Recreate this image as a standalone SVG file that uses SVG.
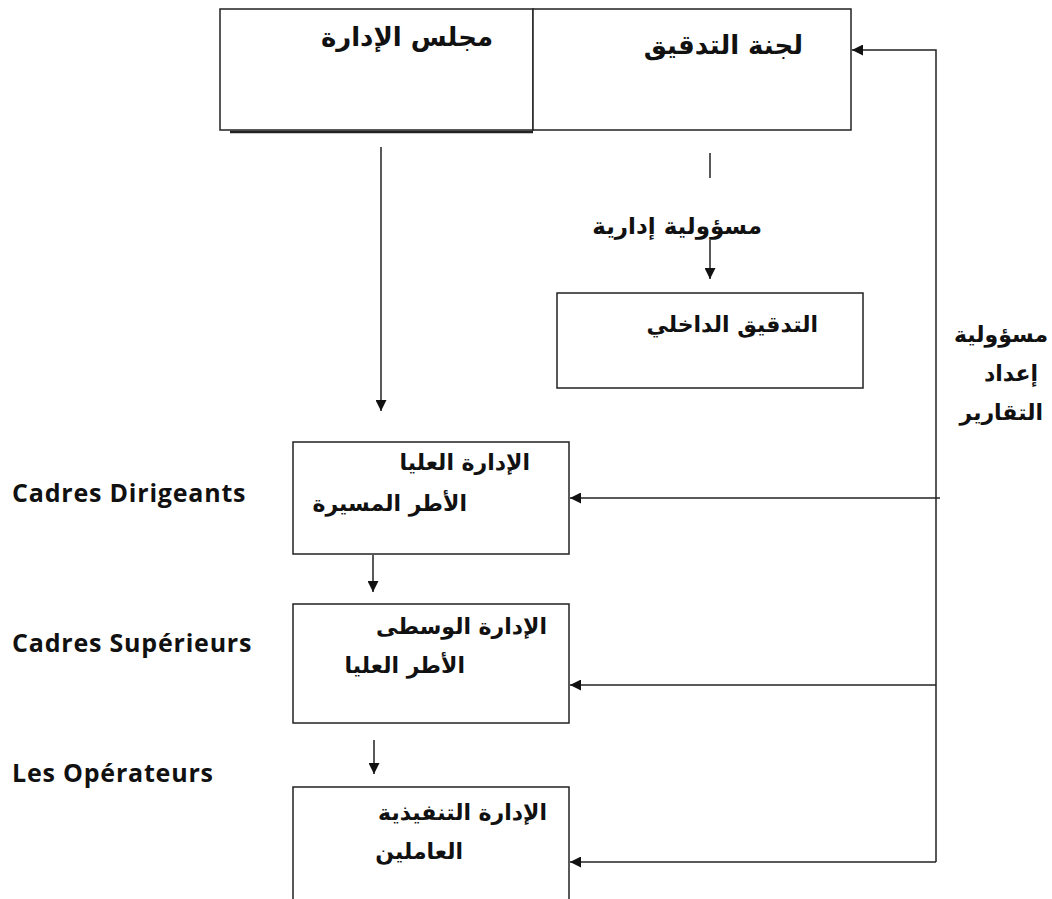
<svg xmlns="http://www.w3.org/2000/svg" width="1052" height="899" viewBox="0 0 1052 899">
<style>
.box{fill:#fff;stroke:#222;stroke-width:1.5}
.ln{stroke:#222;stroke-width:1.5;fill:none}
.ar{font-family:"DejaVu Sans",sans-serif;font-weight:bold;font-size:22px;fill:#111}
.tt{font-size:26px}
.lb{font-size:23px}
.fr{font-family:"Open Sans","Noto Sans",sans-serif;font-weight:bold;font-size:25px;letter-spacing:0.8px;fill:#111}
</style>
<defs>
<marker id="ah" viewBox="0 0 10 10" refX="10" refY="5" markerWidth="11" markerHeight="11" markerUnits="userSpaceOnUse" orient="auto">
<path d="M0,0 L10,5 L0,10 z" fill="#111"/>
</marker>
</defs>
<rect width="1052" height="899" fill="#fff"/>
<g id="board">
<rect class="box" x="220" y="9" width="313" height="121"/>
<line x1="230" y1="132" x2="533" y2="132" stroke="#222" stroke-width="2.5"/>
<text class="ar tt" x="493" y="46" text-anchor="end">مجلس الإدارة</text>
</g>
<g id="audit-committee">
<rect class="box" x="533" y="9" width="318" height="121"/>
<text class="ar tt" x="803" y="54" text-anchor="end">لجنة التدقيق</text>
</g>
<g id="internal-audit">
<rect class="box" x="557" y="293" width="306" height="95"/>
<text class="ar" x="818" y="332" text-anchor="end">التدقيق الداخلي</text>
</g>
<g id="top-mgmt">
<rect class="box" x="293" y="442" width="276" height="112"/>
<text class="ar" x="530" y="470" text-anchor="end">الإدارة العليا</text>
<text class="ar" x="467" y="511" text-anchor="end">الأطر المسيرة</text>
</g>
<g id="middle-mgmt">
<rect class="box" x="293" y="604" width="276" height="119"/>
<text class="ar" x="547" y="634" text-anchor="end">الإدارة الوسطى</text>
<text class="ar" x="465" y="673" text-anchor="end">الأطر العليا</text>
</g>
<g id="exec-mgmt">
<rect class="box" x="293" y="787" width="276" height="130"/>
<text class="ar" x="547" y="820" text-anchor="end">الإدارة التنفيذية</text>
<text class="ar" x="463" y="859" text-anchor="end">العاملين</text>
</g>
<g id="labels">
<text class="ar lb" x="762" y="234" text-anchor="end">مسؤولية إدارية</text>
<text class="ar" x="1048" y="342" text-anchor="end">مسؤولية</text>
<text class="ar" x="1038" y="381" text-anchor="end">إعداد</text>
<text class="ar" x="1043" y="420" text-anchor="end">التقارير</text>
<text class="fr" x="12" y="502">Cadres Dirigeants</text>
<text class="fr" x="12" y="652">Cadres Supérieurs</text>
<text class="fr" x="12" y="782">Les Opérateurs</text>
</g>
<g id="connectors">
<line class="ln" x1="381" y1="147" x2="381" y2="411" marker-end="url(#ah)"/>
<line class="ln" x1="710" y1="153" x2="710" y2="178"/>
<line class="ln" x1="710" y1="240" x2="710" y2="279" marker-end="url(#ah)"/>
<line class="ln" x1="373" y1="555" x2="373" y2="592" marker-end="url(#ah)"/>
<line class="ln" x1="374" y1="740" x2="374" y2="774" marker-end="url(#ah)"/>
<polyline class="ln" points="936,862 936,50 852,50" marker-end="url(#ah)"/>
<line class="ln" x1="940" y1="498" x2="570" y2="498" marker-end="url(#ah)"/>
<line class="ln" x1="936" y1="685" x2="570" y2="685" marker-end="url(#ah)"/>
<line class="ln" x1="936" y1="862" x2="570" y2="862" marker-end="url(#ah)"/>
</g>
</svg>
